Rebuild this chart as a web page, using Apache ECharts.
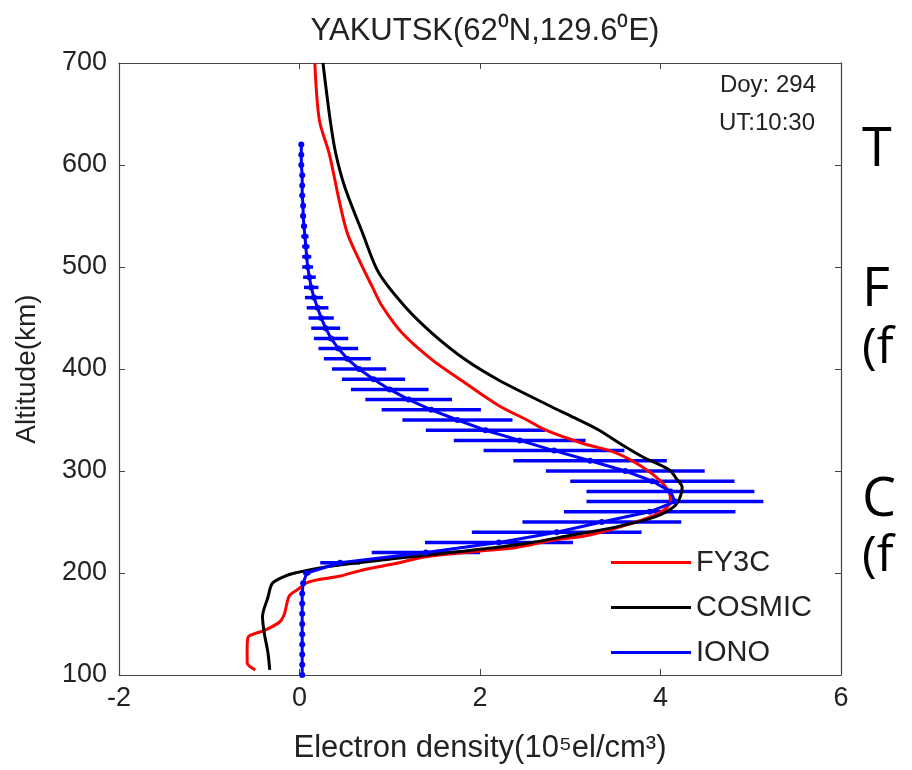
<!DOCTYPE html>
<html>
<head>
<meta charset="utf-8">
<script src="https://cdn.jsdelivr.net/npm/echarts@6/dist/echarts.min.js"></script>
<style>
  html, body { margin: 0; padding: 0; background: #fff; }
  #chart { width: 912px; height: 770px; }
</style>
</head>
<body>
<div id="chart"></div>
<script>
// FY3C profile (density 1e5 el/cm3, altitude km), bottom to top
const fy3cDensity = [-0.49, -0.58, -0.58, -0.57, -0.38, -0.22, -0.17, -0.14, -0.11, 0.0, 0.07, 0.18, 0.45, 0.70, 1.05, 1.40, 1.95, 2.40, 2.80, 3.20, 3.69, 3.99, 4.11, 4.10, 3.99, 3.80, 3.50, 3.14, 2.73, 2.52, 2.21, 1.84, 1.47, 1.14, 0.92, 0.81, 0.66, 0.53, 0.44, 0.33, 0.22, 0.17];
const fy3cAltitude = [105, 112, 125, 137, 144, 152, 159, 170, 178, 185, 190, 193, 197, 203, 209, 216, 221, 225, 232, 237, 249, 259, 270, 278, 291, 304, 318, 327, 340, 350, 364, 386, 409, 435, 461, 480, 507, 533, 565, 611, 644, 700];

// COSMIC profile
const cosmicDensity = [-0.33, -0.35, -0.39, -0.41, -0.35, -0.30, -0.16, -0.05, 0.29, 1.03, 1.77, 2.51, 2.95, 3.50, 3.94, 4.15, 4.22, 4.24, 4.18, 4.10, 3.80, 3.55, 3.32, 3.05, 2.77, 2.21, 1.84, 1.47, 1.17, 0.88, 0.70, 0.50, 0.40, 0.34, 0.26];
const cosmicAltitude = [105, 122, 141, 157, 176, 190, 197, 200, 206, 214, 221, 229, 236, 245, 255, 265, 275, 284, 292, 301, 314, 327, 340, 352, 364, 389, 409, 435, 461, 494, 533, 579, 612, 644, 700];

// IONO (ionosonde) profile with horizontal error bars
const ionoAltitude = [100, 110, 120, 130, 140, 150, 160, 170, 180, 190, 200, 210, 220, 230, 240, 250, 260, 270, 280, 290, 300, 310, 320, 330, 340, 350, 360, 370, 380, 390, 400, 410, 420, 430, 440, 450, 460, 470, 480, 490, 500, 510, 520, 530, 540, 550, 560, 570, 580, 590, 600, 610, 620];
const ionoDensity = [0.03, 0.03, 0.03, 0.03, 0.03, 0.03, 0.03, 0.03, 0.03, 0.04, 0.08, 0.45, 1.40, 2.21, 2.85, 3.35, 3.88, 4.16, 4.11, 3.91, 3.61, 3.22, 2.82, 2.44, 2.06, 1.75, 1.46, 1.21, 1.00, 0.82, 0.66, 0.53, 0.43, 0.35, 0.29, 0.24, 0.20, 0.16, 0.13, 0.11, 0.09, 0.08, 0.07, 0.06, 0.05, 0.04, 0.04, 0.03, 0.03, 0.03, 0.02, 0.02, 0.02];
const ionoError = [0.02, 0.02, 0.02, 0.02, 0.02, 0.02, 0.02, 0.02, 0.02, 0.02, 0.04, 0.22, 0.60, 0.82, 0.94, 0.88, 0.95, 0.98, 0.93, 0.91, 0.88, 0.85, 0.78, 0.73, 0.66, 0.61, 0.55, 0.48, 0.43, 0.35, 0.30, 0.26, 0.22, 0.19, 0.16, 0.14, 0.12, 0.10, 0.08, 0.07, 0.06, 0.05, 0.04, 0.04, 0.03, 0.03, 0.02, 0.02, 0.02, 0.02, 0.02, 0.02, 0.02];

const xTicks = { min: -2, max: 6, step: 2 };
const yTicks = { min: 100, max: 700, step: 100 };

const FONT = 'Liberation Sans, Arial, sans-serif';
const TEXT = '#222';

const chart = echarts.init(document.getElementById('chart'), null, { renderer: 'canvas' });

const fy3c = fy3cDensity.map((d, i) => [d, fy3cAltitude[i]]);
const cosmic = cosmicDensity.map((d, i) => [d, cosmicAltitude[i]]);
const iono = ionoDensity.map((d, i) => [d, ionoAltitude[i]]);
const ionoBars = ionoDensity.map((d, i) => [d - ionoError[i], d + ionoError[i], ionoAltitude[i]]);

const axisBase = {
  type: 'value',
  axisLine: { show: true, onZero: false, lineStyle: { color: '#444', width: 1.2 } },
  axisTick: { show: true, inside: true, length: 6, lineStyle: { color: '#444' } },
  splitLine: { show: false },
};

const option = {
  animation: false,
  backgroundColor: '#fff',
  title: {
    text: 'YAKUTSK(62⁰N,129.6⁰E)',
    left: 480,
    top: 11,
    textAlign: 'center',
    textStyle: { fontFamily: FONT, fontSize: 31, fontWeight: 'normal', color: TEXT },
  },
  grid: { left: 119, right: 71, top: 63, bottom: 95 },
  legend: {
    orient: 'vertical',
    left: 606,
    top: 543,
    itemWidth: 80,
    itemHeight: 3,
    itemGap: 16,
    textStyle: { fontFamily: FONT, fontSize: 29, color: TEXT },
    data: [
      { name: 'FY3C', icon: 'rect' },
      { name: 'COSMIC', icon: 'rect' },
      { name: 'IONO', icon: 'rect' },
    ],
  },
  xAxis: [
    {
      ...axisBase,
      position: 'bottom',
      min: xTicks.min, max: xTicks.max, interval: xTicks.step,
      name: 'Electron density(10⁵el/cm³)',
      nameLocation: 'middle',
      nameGap: 58,
      nameTextStyle: { fontFamily: FONT, fontSize: 31, color: TEXT },
      axisLabel: { fontFamily: FONT, fontSize: 27, color: TEXT, margin: 10 },
    },
    {
      ...axisBase,
      position: 'top',
      min: xTicks.min, max: xTicks.max, interval: xTicks.step,
      axisLabel: { show: false },
    },
  ],
  yAxis: [
    {
      ...axisBase,
      position: 'left',
      min: yTicks.min, max: yTicks.max, interval: yTicks.step,
      name: 'Altitude(km)',
      nameLocation: 'middle',
      nameGap: 78,
      nameTextStyle: { fontFamily: FONT, fontSize: 28, color: TEXT },
      axisLabel: { fontFamily: FONT, fontSize: 27, color: TEXT, margin: 12 },
    },
    {
      ...axisBase,
      position: 'right',
      min: yTicks.min, max: yTicks.max, interval: yTicks.step,
      axisLabel: { show: false },
    },
  ],
  series: [
    {
      name: 'IONO-bars',
      type: 'custom',
      z: 2,
      data: ionoBars,
      renderItem: (params, api) => {
        const p1 = api.coord([api.value(0), api.value(2)]);
        const p2 = api.coord([api.value(1), api.value(2)]);
        return {
          type: 'line',
          shape: { x1: p1[0], y1: p1[1], x2: p2[0], y2: p2[1] },
          style: { stroke: '#0000ff', lineWidth: 3.5 },
        };
      },
    },
    {
      name: 'FY3C',
      type: 'line',
      z: 3,
      data: fy3c,
      showSymbol: false,
      smooth: 0.3,
      color: '#ff0000',
      lineStyle: { color: '#ff0000', width: 3 },
    },
    {
      name: 'COSMIC',
      type: 'line',
      z: 4,
      data: cosmic,
      showSymbol: false,
      smooth: 0.3,
      color: '#000000',
      lineStyle: { color: '#000000', width: 3 },
    },
    {
      name: 'IONO',
      type: 'line',
      z: 5,
      data: iono,
      symbol: 'circle',
      symbolSize: 6,
      color: '#0000ff',
      itemStyle: { color: '#0000ff' },
      lineStyle: { color: '#0000ff', width: 3 },
    },
  ],
  graphic: [
    { type: 'text', right: 96, top: 73, style: { text: 'Doy: 294', font: '24px ' + FONT, fill: TEXT, textAlign: 'right' } },
    { type: 'text', right: 97, top: 111, style: { text: 'UT:10:30', font: '24px ' + FONT, fill: TEXT, textAlign: 'right' } },
    { type: 'text', left: 862, top: 124, style: { text: 'T', font: '54px Open Sans', fill: '#000' } },
    { type: 'text', left: 862, top: 264, style: { text: 'F', font: '54px Open Sans', fill: '#000' } },
    { type: 'text', left: 862, top: 324, style: { text: '(f', font: '50px Open Sans', fill: '#000' } },
    { type: 'text', left: 862, top: 474, style: { text: 'C', font: '54px Open Sans', fill: '#000' } },
    { type: 'text', left: 862, top: 532, style: { text: '(f', font: '50px Open Sans', fill: '#000' } },
  ],
};

chart.setOption(option);
</script>
</body>
</html>
